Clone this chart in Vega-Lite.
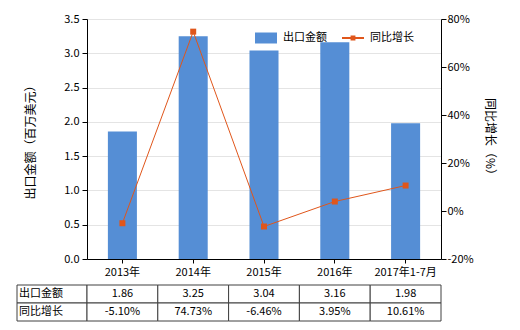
{
  "$schema": "https://vega.github.io/schema/vega-lite/v6.json",
  "background": "white",
  "padding": {"left": 16, "top": 13, "right": 5, "bottom": 5},
  "config": {
    "font": "Noto Sans CJK SC",
    "view": {"stroke": null},
    "locale": {"number": {"decimal": ".", "thousands": ",", "grouping": [3], "currency": ["$", ""], "minus": "-"}},
    "axis": {"labelFont": "Noto Sans CJK SC", "labelFontSize": 11, "labelColor": "#000", "titleFont": "Noto Sans CJK SC", "titleFontSize": 12, "titleFontWeight": "normal", "titleColor": "#000", "domainColor": "#000", "tickColor": "#000", "tickSize": 5, "gridColor": "#e4e4e4"},
    "legend": {"labelFont": "Noto Sans CJK SC", "labelFontSize": 11, "labelColor": "#000"}
  },
  "datasets": {
    "d": [
      {"year": "2013年", "amount": 1.86, "growth": -0.051},
      {"year": "2014年", "amount": 3.25, "growth": 0.7473},
      {"year": "2015年", "amount": 3.04, "growth": -0.0646},
      {"year": "2016年", "amount": 3.16, "growth": 0.0395},
      {"year": "2017年1-7月", "amount": 1.98, "growth": 0.1061}
    ]
  },
  "columns": 2,
  "bounds": "flush",
  "spacing": {"row": 26, "column": 0},
  "concat": [
    {
      "width": 70, "height": 240,
      "data": {"values": [{}]},
      "mark": {"type": "point", "opacity": 0},
      "encoding": {}
    },
    {
      "width": 354, "height": 240,
      "data": {"name": "d"},
      "layer": [
        {
          "mark": {"type": "bar", "width": {"band": 0.41}},
          "encoding": {
            "x": {"field": "year", "type": "nominal", "sort": null, "scale": {"paddingInner": 0, "paddingOuter": 0}, "axis": {"title": null, "labelAngle": 0, "labelPadding": 3, "tickSize": 4}},
            "y": {"field": "amount", "type": "quantitative", "scale": {"domain": [0, 3.5]}, "axis": {"values": [0, 0.5, 1, 1.5, 2, 2.5, 3, 3.5], "format": ".1f", "title": "出口金额（百万美元）", "titlePadding": 26, "labelPadding": 3, "grid": true}},
            "fill": {"datum": "出口金额", "scale": {"range": ["#558ED5"]}, "legend": {"orient": "none", "legendX": 237, "legendY": 7, "title": null, "symbolType": "M-1,-0.5H1V0.5H-1Z", "symbolSize": 484, "labelOffset": 5}}
          }
        },
        {
          "encoding": {
            "x": {"field": "year", "type": "nominal", "sort": null},
            "y": {"field": "growth", "type": "quantitative", "scale": {"domain": [-0.2, 0.8]}, "axis": {"orient": "right", "values": [-0.2, 0, 0.2, 0.4, 0.6, 0.8], "format": ".0%", "title": "同比增长（%）", "titleAngle": 90, "grid": false, "titlePadding": 9, "labelPadding": 1}}
          },
          "layer": [
            {
              "mark": {"type": "line", "strokeWidth": 1},
              "encoding": {
                "stroke": {"datum": "同比增长", "scale": {"range": ["#E0561B"]}, "legend": {"orient": "none", "legendX": 324, "legendY": 7, "title": null, "symbolType": "M-1,0H1M-0.13,-0.13H0.13V0.13H-0.13Z", "symbolSize": 484, "symbolStrokeWidth": 2, "symbolFillColor": "#E0561B", "labelOffset": 5}}
              }
            },
            {
              "mark": {"type": "point", "shape": "square", "size": 36, "filled": true, "color": "#E0561B", "opacity": 1}
            }
          ]
        }
      ],
      "resolve": {"scale": {"y": "independent"}}
    },
    {
      "width": 70, "height": 36,
      "data": {"values": [{"h": "出口金额"}, {"h": "同比增长"}]},
      "encoding": {
        "y": {"field": "h", "type": "nominal", "sort": null, "scale": {"paddingInner": 0, "paddingOuter": 0}, "axis": null},
        "x": {"datum": "a", "type": "nominal", "scale": {"paddingInner": 0, "paddingOuter": 0}, "axis": null}
      },
      "layer": [
        {"mark": {"type": "rect", "fill": "white", "stroke": "#404040", "strokeWidth": 1}},
        {"mark": {"type": "text", "align": "left", "dx": 2, "fontSize": 11, "color": "#000"}, "encoding": {"text": {"field": "h"}, "x": {"datum": "a", "type": "nominal", "bandPosition": 0}}}
      ]
    },
    {
      "width": 354, "height": 36,
      "data": {"name": "d"},
      "encoding": {
        "x": {"field": "year", "type": "nominal", "sort": null, "scale": {"paddingInner": 0, "paddingOuter": 0}, "axis": null}
      },
      "layer": [
        {"mark": {"type": "rect", "fill": "white", "stroke": "#404040", "strokeWidth": 1}, "encoding": {"y": {"datum": "出口金额", "type": "nominal", "scale": {"domain": ["出口金额", "同比增长"], "paddingInner": 0, "paddingOuter": 0}, "axis": null}}},
        {"mark": {"type": "rect", "fill": "white", "stroke": "#404040", "strokeWidth": 1}, "encoding": {"y": {"datum": "同比增长", "type": "nominal"}}},
        {"mark": {"type": "text", "fontSize": 11, "color": "#000"}, "encoding": {"y": {"datum": "出口金额", "type": "nominal"}, "text": {"field": "amount", "type": "quantitative", "format": ".2f"}}},
        {"mark": {"type": "text", "fontSize": 11, "color": "#000"}, "encoding": {"y": {"datum": "同比增长", "type": "nominal"}, "text": {"field": "growth", "type": "quantitative", "format": ".2%"}}}
      ]
    }
  ]
}
